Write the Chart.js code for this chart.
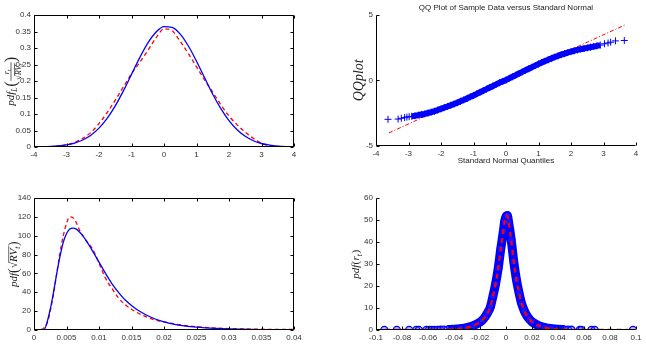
<!DOCTYPE html>
<html>
<head>
<meta charset="utf-8">
<script src="https://cdn.jsdelivr.net/npm/chart.js@4.4.0/dist/chart.umd.min.js"></script>
<style>
  html, body { margin: 0; padding: 0; background: #fff; }
  #wrap { position: relative; width: 646px; height: 352px; }
  canvas { position: absolute; }
</style>
</head>
<body>
<div id="wrap">
  <canvas id="pdfL" width="323" height="176" style="left:0;top:0"></canvas>
  <canvas id="qq" width="323" height="176" style="left:323px;top:0"></canvas>
  <canvas id="pdfRV" width="323" height="176" style="left:0;top:176px"></canvas>
  <canvas id="pdfR" width="323" height="176" style="left:323px;top:176px"></canvas>
</div>
<script>
// top left: standardised returns
const tlX = [-4, -3.75, -3.5, -3.25, -3, -2.75, -2.5, -2.25, -2, -1.75, -1.5, -1.25, -1, -0.75, -0.5, -0.25,
             0, 0.25, 0.5, 0.75, 1, 1.25, 1.5, 1.75, 2, 2.25, 2.5, 2.75, 3, 3.25, 3.5, 3.75, 4];
const tlFit = [0.0003, 0.0007, 0.0016, 0.0033, 0.0064, 0.012, 0.0213, 0.0358, 0.0572, 0.0867, 0.1246, 0.170, 0.220, 0.270, 0.3145, 0.3476,
               0.3645, 0.3625, 0.342, 0.306, 0.260, 0.2098, 0.160, 0.1163, 0.080, 0.0523, 0.0324, 0.019, 0.0106, 0.0056, 0.0028, 0.0013, 0.0006];
const tlKernel = [0.0002, 0.0005, 0.001, 0.003, 0.007, 0.014, 0.026, 0.044, 0.071, 0.104, 0.142, 0.182, 0.222, 0.256, 0.292, 0.330,
                  0.358, 0.352, 0.320, 0.283, 0.243, 0.203, 0.166, 0.128, 0.094, 0.067, 0.045, 0.026, 0.011, 0.004, 0.0015, 0.0005, 0.0002];
const tlXTicks = [-4, -3, -2, -1, 0, 1, 2, 3, 4];
const tlYTicks = [0, 0.05, 0.1, 0.15, 0.2, 0.25, 0.3, 0.35, 0.4];

// top right: QQ plot
const qqTheory = [-3.63, -3.32, -3.22, -3.12, -3.05, -2.98,
  -2.9, -2.8, -2.7, -2.6, -2.5, -2.4, -2.3, -2.2, -2.1, -2.0, -1.9, -1.8, -1.7, -1.6, -1.5, -1.4, -1.3, -1.2, -1.1,
  -1.0, -0.9, -0.8, -0.7, -0.6, -0.5, -0.4, -0.3, -0.2, -0.1, 0, 0.1, 0.2, 0.3, 0.4, 0.5, 0.6, 0.7, 0.8, 0.9,
  1.0, 1.1, 1.2, 1.3, 1.4, 1.5, 1.6, 1.7, 1.8, 1.9, 2.0, 2.1, 2.2, 2.3, 2.4, 2.5, 2.6, 2.7, 2.8, 2.9,
  3.03, 3.14, 3.22, 3.37, 3.64];
const qqSample = [-2.97, -2.95, -2.89, -2.84, -2.8, -2.77,
  -2.74, -2.70, -2.65, -2.60, -2.55, -2.49, -2.42, -2.35, -2.26, -2.17, -2.08, -1.99, -1.90, -1.81, -1.70, -1.60, -1.49, -1.38, -1.26,
  -1.15, -1.03, -0.91, -0.79, -0.67, -0.55, -0.43, -0.31, -0.19, -0.08, 0.03, 0.15, 0.27, 0.39, 0.52, 0.64, 0.76, 0.88, 1.00, 1.12,
  1.24, 1.35, 1.46, 1.57, 1.67, 1.77, 1.86, 1.95, 2.03, 2.11, 2.18, 2.25, 2.31, 2.37, 2.42, 2.47, 2.52, 2.57, 2.62, 2.68,
  2.78, 2.84, 2.9, 3.0, 3.03];
const qqLineX = [-3.6, 3.65];
const qqLineY = [-4.0, 4.2];
const qqXTicks = [-4, -3, -2, -1, 0, 1, 2, 3, 4];
const qqYTicks = [-5, 0, 5];

// bottom left: realised volatility
const rvX = [0, 0.001, 0.0015, 0.002, 0.0025, 0.003, 0.0035, 0.004, 0.0045, 0.005, 0.0055, 0.006, 0.0065, 0.007, 0.0075, 0.008,
             0.009, 0.01, 0.011, 0.012, 0.013, 0.014, 0.015, 0.016, 0.018, 0.02, 0.022, 0.025, 0.028, 0.03, 0.035, 0.04];
const rvFit = [0, 0, 0, 8, 22, 40, 60, 78, 93, 102, 107, 108, 107, 104, 100, 95,
               84, 72, 60, 49, 40, 32, 26, 21, 13.5, 8.5, 5.5, 3, 1.6, 1.1, 0.4, 0.1];
const rvKernel = [0, 0.5, 2, 7, 20, 38, 60, 82, 100, 113, 120, 119, 114, 106, 100, 95,
                  86, 71, 55, 44, 34, 27, 22, 18, 12, 8.5, 6, 3.5, 2, 1.5, 0.8, 0.5];
const rvXTicks = [0, 0.005, 0.01, 0.015, 0.02, 0.025, 0.03, 0.035, 0.04];
const rvYTicks = [0, 20, 40, 60, 80, 100, 120, 140];

// bottom right: returns
const rX = [-0.1, -0.09, -0.08, -0.07, -0.06, -0.05, -0.045, -0.04, -0.035, -0.03, -0.025, -0.02, -0.018, -0.016, -0.014, -0.012,
            -0.01, -0.008, -0.006, -0.004, -0.002, -0.001, 0, 0.001, 0.002, 0.004, 0.006, 0.008, 0.01, 0.012, 0.014, 0.016,
            0.018, 0.02, 0.025, 0.03, 0.035, 0.04, 0.045, 0.05, 0.06, 0.07, 0.08, 0.09, 0.1];
const rKernel = [0, 0.02, 0.03, 0.05, 0.08, 0.15, 0.2, 0.3, 0.6, 1.1, 2.0, 3.6, 4.6, 6.0, 8.0, 10.5,
                 15.5, 21, 28, 37, 45, 49.5, 51.5, 52, 49, 41, 31, 23, 17, 12, 8.8, 6.5,
                 4.9, 3.7, 2.0, 1.1, 0.6, 0.3, 0.2, 0.12, 0.07, 0.05, 0.03, 0.02, 0];
const rTailX = [-0.0936, -0.084, -0.0745, -0.069, -0.067, -0.0612, -0.0593, -0.0572, -0.055, -0.0528, -0.0505, -0.048,
                0.0477, 0.0503, 0.0567, 0.058, 0.0657, 0.0682, 0.0977];
const rTailY = [0.05, 0.05, 0.05, 0.05, 0.05, 0.08, 0.08, 0.08, 0.1, 0.1, 0.12, 0.15,
                0.15, 0.12, 0.08, 0.08, 0.05, 0.05, 0.05];
const rXTicks = [-0.1, -0.08, -0.06, -0.04, -0.02, 0, 0.02, 0.04, 0.06, 0.08, 0.1];
const rYTicks = [0, 10, 20, 30, 40, 50, 60];

const BLUE = '#0000ff';
const RED = '#ff0000';

Chart.defaults.font.family = '"Liberation Sans", Arial, sans-serif';
Chart.defaults.animation = false;

function pts(xs, ys) {
    return xs.map((x, i) => ({ x: x, y: ys[i] }));
}

function axis(min, max, ticks, size) {
    return {
        type: 'linear', min: min, max: max,
        grid: { display: false, drawTicks: false },
        border: { display: false },
        afterBuildTicks: s => { s.ticks = ticks.map(v => ({ value: v })); },
        afterFit: s => { if (s.isHorizontal()) s.height = size; else s.width = size; },
        ticks: { padding: 3, color: '#333', font: { size: 8 }, autoSkip: false, maxRotation: 0, callback: v => String(v) }
    };
}

// matlab style axes: inward ticks, optional box
function matlabAxes(box) {
    return {
        id: 'matlabAxes',
        afterDatasetsDraw(chart) {
            const { ctx, chartArea: a, scales } = chart;
            const L = Math.round(a.left) + 0.5, R = Math.round(a.right) - 0.5;
            const T = Math.round(a.top) + 0.5, B = Math.round(a.bottom) - 0.5;
            ctx.save();
            ctx.strokeStyle = '#000';
            ctx.lineWidth = 1;
            ctx.beginPath();
            ctx.moveTo(L, T); ctx.lineTo(L, B); ctx.lineTo(R, B);
            if (box) { ctx.lineTo(R, T); ctx.lineTo(L, T); }
            scales.x.ticks.forEach(t => {
                const px = Math.round(scales.x.getPixelForValue(t.value)) + 0.5;
                ctx.moveTo(px, B); ctx.lineTo(px, B - 3);
                if (box) { ctx.moveTo(px, T); ctx.lineTo(px, T + 3); }
            });
            scales.y.ticks.forEach(t => {
                const py = Math.round(scales.y.getPixelForValue(t.value)) + 0.5;
                ctx.moveTo(L, py); ctx.lineTo(L + 3, py);
                if (box) { ctx.moveTo(R, py); ctx.lineTo(R - 3, py); }
            });
            ctx.stroke();
            ctx.restore();
        }
    };
}

// small latex-like renderer for the y labels
function mathFont(size, italic) {
    return (italic ? 'italic ' : '') + size + 'px "Liberation Serif", "DejaVu Serif", serif';
}
function measureToks(ctx, toks, size) {
    let w = 0;
    toks.forEach(t => { w += tokWidth(ctx, t, size); });
    return w;
}
function tokWidth(ctx, t, size) {
    if (typeof t === 'string') { ctx.font = mathFont(size, true); return ctx.measureText(t).width; }
    if (t.up) { ctx.font = mathFont(size * (t.k || 1), false); return ctx.measureText(t.up).width + 0.5; }
    if (t.sub) return measureToks(ctx, t.sub, size * 0.7) + 0.5;
    if (t.frac) return Math.max(measureToks(ctx, t.frac[0], size * 0.75), measureToks(ctx, t.frac[1], size * 0.75)) + 2;
    if (t.sqrt) { ctx.font = mathFont(size, false); return ctx.measureText('\u221A').width + measureToks(ctx, t.sqrt, size); }
    return 0;
}
function drawToks(ctx, toks, size, x, y) {
    toks.forEach(t => { x += drawTok(ctx, t, size, x, y); });
}
function drawTok(ctx, t, size, x, y) {
    const w = tokWidth(ctx, t, size);
    if (typeof t === 'string') {
        ctx.font = mathFont(size, true);
        ctx.fillText(t, x, y);
    } else if (t.up) {
        ctx.font = mathFont(size * (t.k || 1), false);
        ctx.fillText(t.up, x, y + (t.dy || 0));
    } else if (t.sub) {
        drawToks(ctx, t.sub, size * 0.7, x, y + size * 0.22);
    } else if (t.frac) {
        const s = size * 0.75;
        const wn = measureToks(ctx, t.frac[0], s), wd = measureToks(ctx, t.frac[1], s);
        drawToks(ctx, t.frac[0], s, x + (w - wn) / 2, y - size * 0.5);
        drawToks(ctx, t.frac[1], s, x + (w - wd) / 2, y + size * 0.6);
        ctx.lineWidth = 0.7;
        ctx.beginPath(); ctx.moveTo(x, y - size * 0.3); ctx.lineTo(x + w, y - size * 0.3); ctx.stroke();
    } else if (t.sqrt) {
        ctx.font = mathFont(size, false);
        const rw = ctx.measureText('\u221A').width;
        ctx.fillText('\u221A', x, y);
        drawToks(ctx, t.sqrt, size, x + rw, y);
        ctx.lineWidth = 0.7;
        ctx.beginPath(); ctx.moveTo(x + rw - 0.5, y - size * 0.78); ctx.lineTo(x + w, y - size * 0.78); ctx.stroke();
    }
    return w;
}
function mathLabel(xc, size, toks) {
    return {
        id: 'mathLabel',
        afterDraw(chart) {
            const { ctx, chartArea: a } = chart;
            ctx.save();
            ctx.translate(xc + size * 0.3, (a.top + a.bottom) / 2);
            ctx.rotate(-Math.PI / 2);
            ctx.fillStyle = '#222';
            ctx.strokeStyle = '#222';
            ctx.textBaseline = 'alphabetic';
            const w = measureToks(ctx, toks, size);
            drawToks(ctx, toks, size, -w / 2, 0);
            ctx.restore();
        }
    };
}

const quiet = { legend: { display: false }, tooltip: { enabled: false } };

// Top left
new Chart(document.getElementById('pdfL'), {
    type: 'line',
    data: {
        datasets: [{
            data: pts(tlX, tlFit), borderColor: BLUE, borderWidth: 1.3, pointRadius: 0, cubicInterpolationMode: 'monotone'
        }, {
            data: pts(tlX, tlKernel), borderColor: RED, borderWidth: 1.3, borderDash: [4, 3], pointRadius: 0, cubicInterpolationMode: 'monotone'
        }]
    },
    options: {
        responsive: false,
        layout: { padding: { top: 15, right: 29, left: 0, bottom: 0 } },
        plugins: quiet,
        scales: { x: axis(-4, 4, tlXTicks, 29), y: axis(0, 0.4, tlYTicks, 34) }
    },
    plugins: [matlabAxes(true), mathLabel(11, 11, ['pdf', { sub: ['L'] }, { up: '(', k: 1.5, dy: 2 },
        { frac: [['r', { sub: ['t'] }], [{ sqrt: ['RV', { sub: ['t'] }] }]] }, { up: ')', k: 1.5, dy: 2 }])]
});

// Top right
const qqAll = pts(qqTheory, qqSample);
const qqDense = qqAll.filter(p => Math.abs(p.x) <= 2.95);
new Chart(document.getElementById('qq'), {
    type: 'line',
    data: {
        datasets: [{
            data: qqAll, showLine: false, pointStyle: 'cross', pointRadius: 3.5, pointBorderColor: BLUE, pointBorderWidth: 1
        }, {
            data: qqDense, borderColor: BLUE, borderWidth: 6, pointRadius: 0, tension: 0.3
        }, {
            data: pts(qqLineX, qqLineY), borderColor: RED, borderWidth: 1, borderDash: [4, 2, 1, 2], pointRadius: 0
        }]
    },
    options: {
        responsive: false,
        layout: { padding: { top: 0, right: 10, left: 0, bottom: 0 } },
        plugins: {
            legend: { display: false }, tooltip: { enabled: false },
            title: {
                display: true, text: 'QQ Plot of Sample Data versus Standard Normal', fullSize: false,
                color: '#222', font: { size: 8, weight: 'normal' }, padding: { top: 3, bottom: 2 }
            }
        },
        scales: {
            x: Object.assign(axis(-4, 4, qqXTicks, 30), {
                title: { display: true, text: 'Standard Normal Quantiles', color: '#222', font: { size: 8 }, padding: { top: 0, bottom: 10 } }
            }),
            y: axis(-5, 5, qqYTicks, 53)
        }
    },
    plugins: [matlabAxes(false), mathLabel(36, 14, ['QQplot'])]
});

// Bottom left
new Chart(document.getElementById('pdfRV'), {
    type: 'line',
    data: {
        datasets: [{
            data: pts(rvX, rvFit), borderColor: BLUE, borderWidth: 1.3, pointRadius: 0, cubicInterpolationMode: 'monotone'
        }, {
            data: pts(rvX, rvKernel), borderColor: RED, borderWidth: 1.3, borderDash: [4, 3], pointRadius: 0, cubicInterpolationMode: 'monotone'
        }]
    },
    options: {
        responsive: false,
        layout: { padding: { top: 22, right: 29, left: 0, bottom: 0 } },
        plugins: quiet,
        scales: { x: axis(0, 0.04, rvXTicks, 22), y: axis(0, 140, rvYTicks, 34) }
    },
    plugins: [matlabAxes(true), mathLabel(14, 11, ['pdf', { up: '(', k: 1.25, dy: 1 }, { sqrt: ['RV', { sub: ['t'] }] }, { up: ')', k: 1.25, dy: 1 }])]
});

// Bottom right
const rAll = pts(rX, rKernel);
const rDense = rAll.filter(p => Math.abs(p.x) <= 0.045);
new Chart(document.getElementById('pdfR'), {
    type: 'line',
    data: {
        datasets: [{
            data: rAll, borderColor: RED, borderWidth: 2.2, borderDash: [5, 4], pointRadius: 0, cubicInterpolationMode: 'monotone'
        }, {
            data: pts(rTailX, rTailY), showLine: false, pointStyle: 'circle', pointRadius: 3.5,
            pointBorderColor: BLUE, pointBackgroundColor: 'rgba(60,60,255,0.35)', pointBorderWidth: 1.3
        }, {
            data: rDense, borderColor: BLUE, borderWidth: 9, cubicInterpolationMode: 'monotone',
            pointStyle: 'circle', pointRadius: 3.5, pointBorderColor: BLUE, pointBackgroundColor: 'rgba(60,60,255,0.35)', pointBorderWidth: 1.3
        }]
    },
    options: {
        responsive: false,
        layout: { padding: { top: 22, right: 10, left: 0, bottom: 0 } },
        plugins: quiet,
        scales: { x: axis(-0.1, 0.1, rXTicks, 22), y: axis(0, 60, rYTicks, 53) }
    },
    plugins: [matlabAxes(false), mathLabel(33, 11, ['pdf', { up: '(' }, 'r', { sub: ['t'] }, { up: ')' }])]
});
</script>
</body>
</html>
